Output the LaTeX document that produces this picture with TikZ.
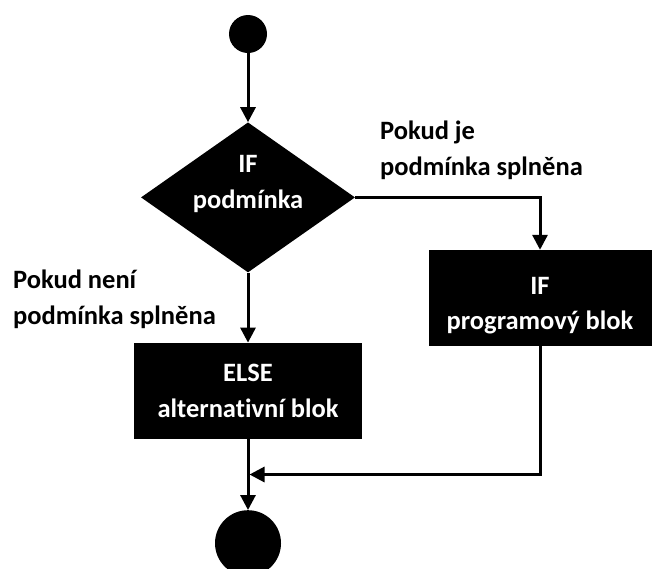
\documentclass[tikz,border=0pt]{standalone}
\usepackage{fontspec}
\setmainfont{Carlito}[Ligatures=NoCommon]
\usetikzlibrary{arrows.meta,positioning,shapes.geometric,calc}

\begin{document}
\begin{tikzpicture}[
    x=1pt, y=-1pt,
    txt/.style={font=\fontsize{26.5}{35.5}\selectfont\bfseries},
    dot/.style={circle, fill=black, inner sep=0pt},
    decision/.style={diamond, aspect=1.43, fill=black, text=white, txt, align=center, inner sep=0pt, minimum width=214pt, minimum height=150pt},
    block/.style={rectangle, fill=black, text=white, txt, align=center, minimum height=96pt},
    note/.style={txt, align=left, inner sep=0pt},
    arrow/.style={-{Triangle[length=15pt,width=15pt]}, line width=3pt}
  ]
  \useasboundingbox (0,0) rectangle (652,568);
  \node[dot, minimum size=38pt] (start) at (248,34) {};
  \node[decision, text height=30pt, text depth=8pt, below=69pt of start] (cond) {IF\\podmínka};
  \node[block, minimum width=228pt, text height=54pt, text depth=1pt, below=70pt of cond] (elseb) {ELSE\\alternativní blok};
  \node[dot, minimum size=66pt, below=71pt of elseb] (stop) {};
  \node[block, minimum width=223pt, text height=64pt, text depth=1pt] (ifb) at (540,298) {IF\\programový blok};
  \coordinate (merge) at ($(elseb.south)!0.5!(stop.north)$);
  \node[note, anchor=north west] (yes) at (380,121) {Pokud je\\podmínka splněna};
  \node[note, anchor=north west] (no) at (13,270) {Pokud není\\podmínka splněna};
  \draw[arrow] (start) -- (cond);
  \draw[arrow] (cond) -- (elseb);
  \draw[arrow] (cond.east) -| (ifb.north);
  \draw[arrow] (elseb) -- (stop);
  \draw[arrow, shorten >=1.5pt] (ifb.south) |- (merge);
\end{tikzpicture}
\end{document}
